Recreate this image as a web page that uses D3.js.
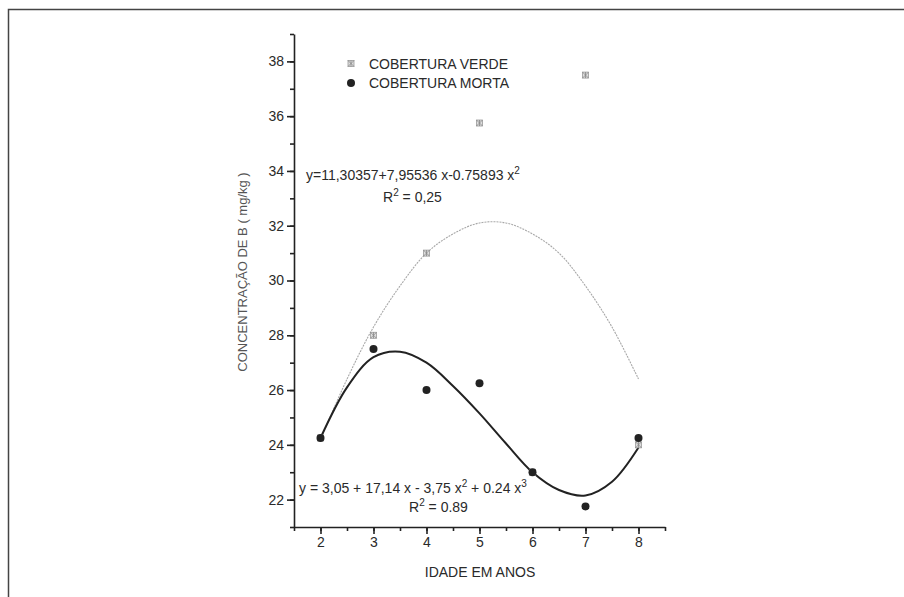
<!DOCTYPE html>
<meta charset="utf-8">
<title>Concentração de B</title>
<body>
<script src="https://cdn.jsdelivr.net/npm/d3@7"></script>
<style>
html, body {
    margin: 0;
    background: #fff;
}
svg text {
    font-family: "Liberation Sans", Arial, sans-serif;
    fill: #2a2a2a;
}
</style>
<script>
var width = 904,
    height = 597;

// observed points (idade em anos)
var idade = [2, 3, 4, 5, 6, 7, 8];
var verde = [24.25, 28, 31, 35.75, 23, 37.5, 24];
var morta = [24.25, 27.5, 26, 26.25, 23, 21.75, 24.25];

// fitted curves, every half year
var curveX = [2, 2.5, 3, 3.5, 4, 4.5, 5, 5.5, 6, 6.5, 7, 7.5, 8];
var verdeFit = [24.2, 26.4, 28.3, 29.8, 31.0, 31.7, 32.1, 32.1, 31.7, 31.0, 29.8, 28.3, 26.4];
var mortaFit = [24.25, 26.1, 27.2, 27.4, 27.0, 26.15, 25.15, 24.05, 23.0, 22.35, 22.15, 22.65, 23.9];

var xTicks = [2, 3, 4, 5, 6, 7, 8],
    yTicks = [22, 24, 26, 28, 30, 32, 34, 36, 38];

var svg = d3.select("body").append("svg")
    .attr("width", width)
    .attr("height", height);

// outer frame
svg.append("rect")
    .attr("x", 8.5).attr("y", 9.5)
    .attr("width", 920).attr("height", 620)
    .attr("fill", "none")
    .attr("stroke", "#444")
    .attr("stroke-width", 1.5);

var x = d3.scaleLinear().domain([1.5, 8.5]).range([294, 665]),
    y = d3.scaleLinear().domain([21, 39]).range([527, 34]);

// axes: major ticks labelled, minor ticks at halves / odd values
svg.append("g")
    .attr("transform", "translate(0,527)")
    .call(d3.axisBottom(x).tickValues(d3.range(1.5, 8.6, 0.5)).tickSize(4).tickFormat(""))
    .call(function(g) { g.select(".domain").remove(); g.selectAll("text").remove(); });
svg.append("g")
    .attr("transform", "translate(0,527)")
    .call(d3.axisBottom(x).tickValues(xTicks).tickSize(7).tickPadding(3)
        .tickSizeOuter(0).tickFormat(d3.format("d")));
svg.append("g")
    .attr("transform", "translate(294,0)")
    .call(d3.axisLeft(y).tickValues(d3.range(21, 40, 1)).tickSize(4).tickFormat(""))
    .call(function(g) { g.select(".domain").remove(); g.selectAll("text").remove(); });
svg.append("g")
    .attr("transform", "translate(294,0)")
    .call(d3.axisLeft(y).tickValues(yTicks).tickSize(7).tickPadding(3)
        .tickSizeOuter(0).tickFormat(d3.format("d")));

svg.selectAll(".tick line, .domain")
    .attr("stroke", "#222")
    .attr("stroke-width", 1.6);
svg.selectAll(".tick text")
    .attr("font-size", 14)
    .attr("font-family", "Liberation Sans, Arial, sans-serif")
    .attr("fill", "#2a2a2a");

// axis titles
svg.append("text")
    .attr("x", 480).attr("y", 577)
    .attr("text-anchor", "middle")
    .attr("font-size", 14)
    .text("IDADE EM ANOS");
svg.append("text")
    .attr("transform", "translate(247,272) rotate(-90)")
    .attr("text-anchor", "middle")
    .attr("font-size", 13)
    .style("fill", "#555")
    .text("CONCENTRAÇÃO DE B ( mg/kg )");

// fitted lines
var line = d3.line()
    .x(function(d) { return x(d[0]); })
    .y(function(d) { return y(d[1]); })
    .curve(d3.curveCatmullRom);

svg.append("path")
    .datum(d3.zip(curveX, verdeFit))
    .attr("d", line)
    .attr("fill", "none")
    .attr("stroke", "#a8a8a8")
    .attr("stroke-width", 1.1)
    .attr("stroke-dasharray", "2,1");

svg.append("path")
    .datum(d3.zip(curveX, mortaFit))
    .attr("d", line)
    .attr("fill", "none")
    .attr("stroke", "#222")
    .attr("stroke-width", 2);

// markers
function verdeMark(sel) {
    sel.append("rect")
        .attr("x", -3).attr("y", -3)
        .attr("width", 6).attr("height", 6)
        .attr("fill", "#ddd")
        .attr("stroke", "#999")
        .attr("stroke-width", 0.8);
    sel.append("path")
        .attr("d", "M-3,-3L3,3M-3,3L3,-3M0,-3V3")
        .attr("stroke", "#888")
        .attr("stroke-width", 0.8);
}

svg.selectAll(".verde")
    .data(d3.zip(idade, verde))
    .enter().append("g")
    .attr("class", "verde")
    .attr("transform", function(d) { return "translate(" + x(d[0]) + "," + y(d[1]) + ")"; })
    .call(verdeMark);

svg.selectAll(".morta")
    .data(d3.zip(idade, morta))
    .enter().append("circle")
    .attr("class", "morta")
    .attr("cx", function(d) { return x(d[0]); })
    .attr("cy", function(d) { return y(d[1]); })
    .attr("r", 4)
    .attr("fill", "#222");

// legend
svg.append("g")
    .attr("transform", "translate(351,63.5)")
    .call(verdeMark);
svg.append("circle")
    .attr("cx", 351).attr("cy", 83)
    .attr("r", 4)
    .attr("fill", "#222");
svg.append("text")
    .attr("x", 369).attr("y", 68.5)
    .attr("font-size", 14)
    .text("COBERTURA VERDE");
svg.append("text")
    .attr("x", 369).attr("y", 88)
    .attr("font-size", 14)
    .text("COBERTURA MORTA");

// equations; superscripts are given as ["^", "2"]
function equation(xPos, yPos, parts) {
    var t = svg.append("text")
        .attr("x", xPos).attr("y", yPos)
        .attr("font-size", 14),
        shift = 0;
    parts.forEach(function(p) {
        if (typeof p !== "string") {
            t.append("tspan").attr("dy", -6 - shift).attr("font-size", 10).text(p[1]);
            shift = -6;
        } else {
            t.append("tspan").attr("dy", -shift).text(p);
            shift = 0;
        }
    });
    return t;
}

equation(306, 180, ["y=11,30357+7,95536 x-0.75893 x", ["^", "2"]]);
equation(383, 202, ["R", ["^", "2"], " = 0,25"]);
equation(299, 493, ["y = 3,05 + 17,14 x - 3,75 x", ["^", "2"], " + 0.24 x", ["^", "3"]]);
equation(409, 512, ["R", ["^", "2"], " = 0.89"]);
</script>
